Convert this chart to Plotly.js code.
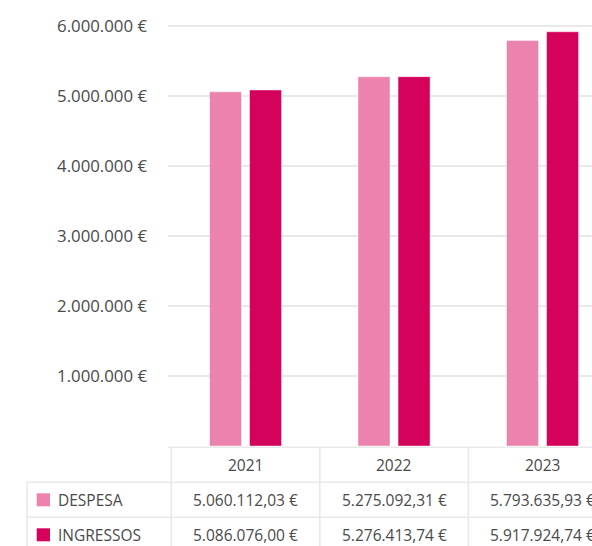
<!DOCTYPE html>
<html><head><meta charset="utf-8">
<script src="https://cdn.plot.ly/plotly-3.0.1.min.js"></script>
<style>html,body{margin:0;padding:0;background:#fff;overflow:hidden}</style>
</head><body><div id="chart" style="width:592px;height:546px"></div>
<script>
// ---- data ----
const years = ['2021', '2022', '2023'];
const seriesNames = ['DESPESA', 'INGRESSOS'];
const despesa = [5060112.03, 5275092.31, 5793635.93];
const ingressos = [5086076.00, 5276413.74, 5917924.74];
const yTickVals = [1000000, 2000000, 3000000, 4000000, 5000000, 6000000];

// ---- styles ----
const colors = ['#EC83AE', '#D5025C'];
const textColor = '#4a4a4a';
const lineColor = '#e9e9e9';
const W = 592, H = 546, L = 168, B = 100, T = 0;
const plotH = H - T - B;
const pxPerUnit = 70 / 1000000;

function groupThousands(s) { return s.replace(/\B(?=(\d{3})+(?!\d))/g, '.'); }
function fmtInt(v) { return groupThousands(String(Math.round(v))) + ' €'; }
function fmtDec(v) {
  const p = v.toFixed(2).split('.');
  return groupThousands(p[0]) + ',' + p[1] + ' €';
}
const px = p => (p - L) / (W - L);      // pixel x -> paper x
const py = p => (H - B - p) / plotH;    // pixel y -> paper y

const seriesValues = [despesa, ingressos];
const traces = seriesNames.map((name, s) => ({
  type: 'bar', name: name, x: years, y: seriesValues[s],
  marker: { color: colors[s], line: { width: 1, color: 'rgba(255,255,255,0.45)' } },
  hoverinfo: 'none'
}));

// ---- table (shapes + annotations) ----
const shapes = [];
const annotations = [];
const rowTop = 447.3, rowH = 35;
const line = (xref, x0, x1, y0, y1) => ({
  type: 'line', xref: xref, yref: 'paper', x0: x0, x1: x1, y0: py(y0), y1: py(y1),
  line: { color: lineColor, width: 1.6 }
});
// horizontal lines
shapes.push(line('paper', px(168), 1, rowTop, rowTop));
shapes.push(line('paper', px(27), 1, rowTop + rowH, rowTop + rowH));
shapes.push(line('paper', px(27), 1, rowTop + 2 * rowH, rowTop + 2 * rowH));
// vertical lines
shapes.push(line('paper', px(27), px(27), rowTop + rowH, H + 5));
years.forEach((y, i) => {
  shapes.push(line('x', i - 0.5, i - 0.5, rowTop, H + 5));
});
// header years (category index positions on the x axis)
years.forEach((y, i) => {
  annotations.push({ xref: 'x', yref: 'paper', x: i, y: py(rowTop + rowH / 2 + 0.5),
    text: y, showarrow: false, xanchor: 'center', yanchor: 'middle',
    font: { size: 15.5, color: textColor } });
});
// rows
seriesNames.forEach((name, s) => {
  const cy = rowTop + rowH * (s + 1) + rowH / 2;
  shapes.push({ type: 'rect', xref: 'paper', yref: 'paper',
    x0: px(36.7), x1: px(50), y0: py(cy - 6.5), y1: py(cy + 6.5),
    fillcolor: colors[s], line: { width: 0 } });
  annotations.push({ xref: 'paper', yref: 'paper', x: px(56), y: py(cy),
    text: name, showarrow: false, xanchor: 'left', yanchor: 'middle',
    font: { size: 15.5, color: textColor } });
  years.forEach((y, i) => {
    annotations.push({ xref: 'x', yref: 'paper', x: i, y: py(cy),
      text: fmtDec(seriesValues[s][i]), showarrow: false, xanchor: 'center', yanchor: 'middle',
      font: { size: 15.5, color: textColor } });
  });
});

const layout = {
  width: W, height: H,
  margin: { l: L, r: 0, t: T, b: B, pad: 0 },
  paper_bgcolor: '#fff', plot_bgcolor: '#fff',
  font: { family: '"Open Sans", sans-serif', color: textColor },
  showlegend: false,
  barmode: 'group', bargap: 0.461, bargroupgap: 0.2,
  xaxis: { type: 'category', range: [-0.522, 2.333], showticklabels: false,
    showgrid: false, zeroline: false, showline: false, ticks: '' },
  yaxis: { range: [0, plotH / pxPerUnit], tickvals: yTickVals, ticktext: yTickVals.map(fmtInt),
    showgrid: true, gridcolor: lineColor, gridwidth: 1.6, zeroline: false, showline: false,
    ticks: '', ticklabelstandoff: 20, tickfont: { size: 16.8, color: textColor } },
  shapes: shapes,
  annotations: annotations
};
Plotly.newPlot('chart', traces, layout, { displayModeBar: false, staticPlot: true });
</script></body></html>
